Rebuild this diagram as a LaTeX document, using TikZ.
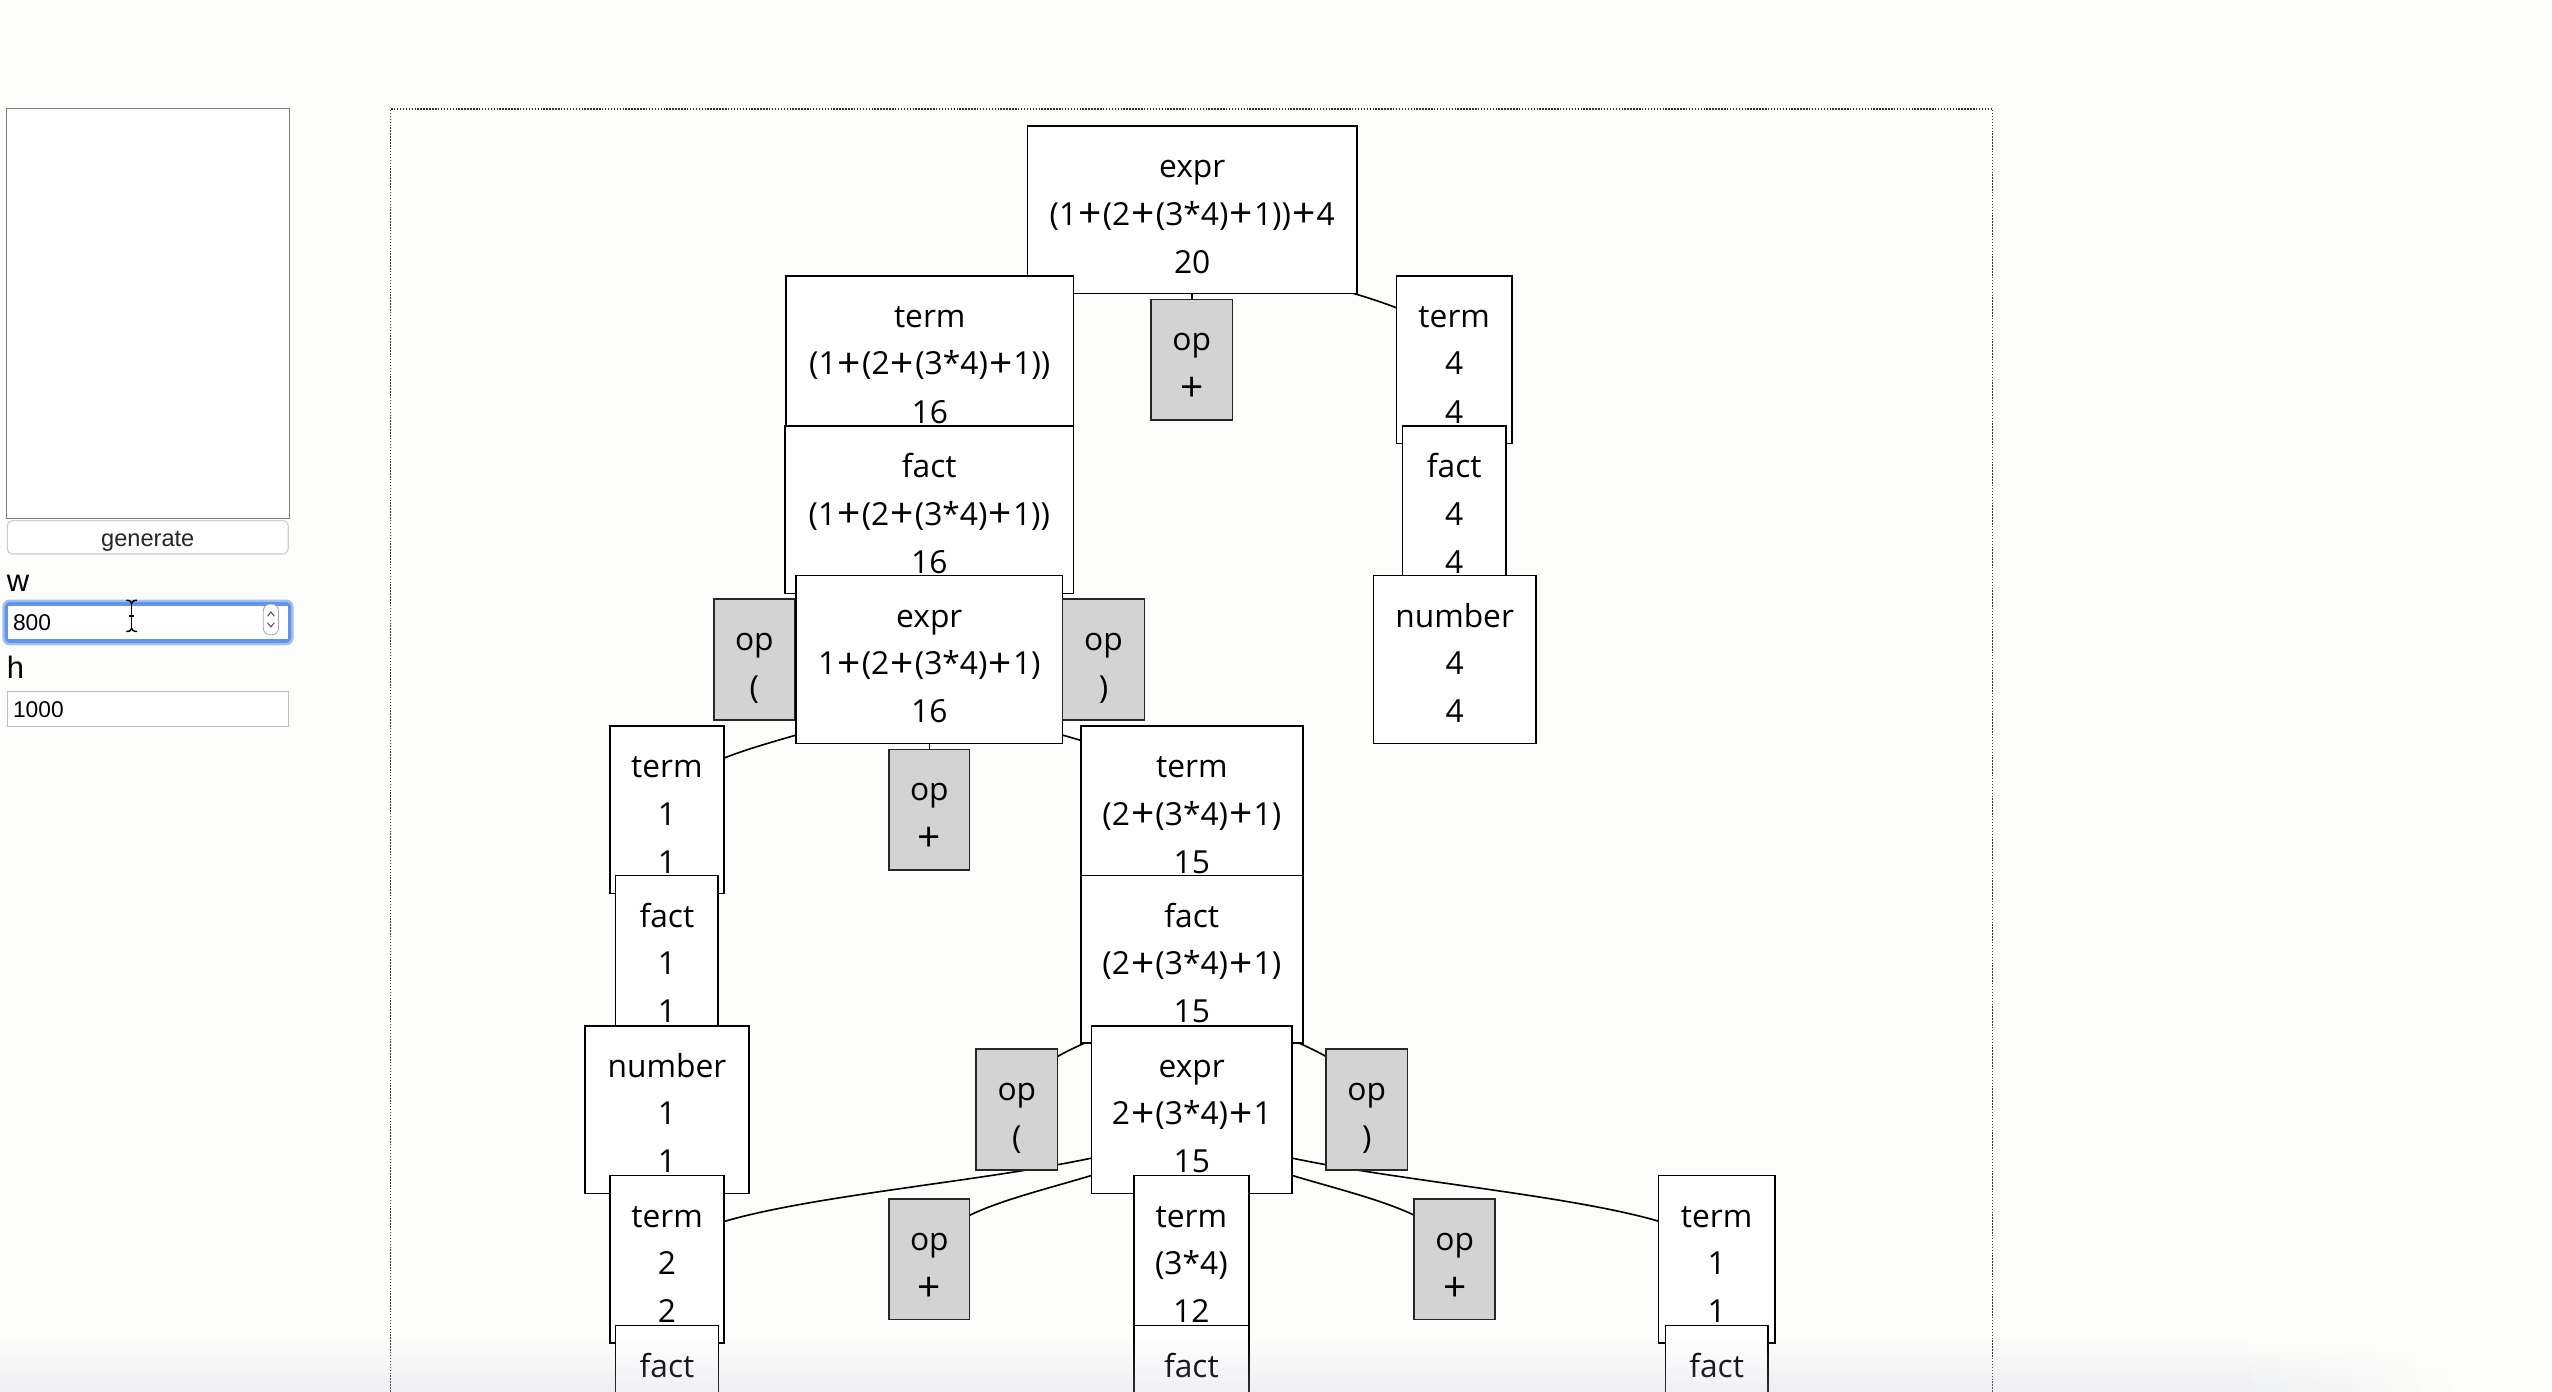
\documentclass[tikz,border=0pt]{standalone}
\usepackage{fontspec}
\setmainfont{Open Sans}
\newfontfamily\uifont{Liberation Sans}
\usetikzlibrary{calc}
\definecolor{pagebg}{RGB}{253,253,251}
\definecolor{opgray}{RGB}{211,211,211}
\definecolor{ringout}{RGB}{160,192,242}
\definecolor{ringin}{RGB}{98,148,232}
\definecolor{areaborder}{RGB}{125,125,125}
\definecolor{fieldborder}{RGB}{190,190,190}
\definecolor{btnborder}{RGB}{205,205,205}
\definecolor{shadowc}{RGB}{196,198,214}
\pgfdeclarelayer{bg}
\pgfdeclarelayer{links}
\pgfdeclarelayer{fg}
\pgfsetlayers{bg,links,main,fg}
\tikzset{
  nbox/.style={draw=black, fill=white, line width=1pt, minimum height=103pt, inner sep=0pt, outer sep=0pt},
  opbox/.style={nbox, fill=opgray, draw=black!85, minimum height=74pt},
  ntext/.style={anchor=base, inner sep=0pt, font=\fontsize{19.5}{23}\selectfont, text=black},
  link/.style={draw=black, line width=1pt},
  uitext/.style={anchor=base west, inner sep=0pt, text=black},
}
% plus sign drawn larger, as in the original font
\newcommand\pl{\kern0.7pt\raisebox{-1.7pt}{\fontsize{25}{23}\selectfont+}\kern0.7pt}
% three-line box: name, centre x, level top, width, lines
\newcommand\TreeBox[7]{%
  \node[nbox, minimum width=#4pt] (#1) at (#2,#3+51.5) {};
  \node[ntext] (#1-a) at ([yshift=-31.7pt]#1.north) {#5};
  \node[ntext] (#1-b) at ([yshift=-61pt]#1.north) {#6};
  \node[ntext] (#1-c) at ([yshift=-90.5pt]#1.north) {#7};}
% box cut off at the bottom: only first line visible
\newcommand\LowBox[5]{%
  \node[nbox, minimum width=#4pt] (#1) at (#2,#3+51.5) {};
  \node[ntext] (#1-a) at ([yshift=-31.7pt]#1.north) {#5};}
% grey operator box
\newcommand\OpBox[6]{%
  \node[opbox, minimum width=#4pt] (#1) at (#2,#3+51.5) {};
  \node[ntext] (#1-a) at ([yshift=-31.3pt]#1.north) {#5};
  \node[ntext] (#1-b) at ([yshift=-61pt]#1.north) {#6};}
\newcommand\TreeLink[2]{%
  \draw[link] let \p1=(#1.center), \p2=(#2.center) in
    (\p1) .. controls (\x1,{(\y1+\y2)/2}) and (\x2,{(\y1+\y2)/2}) .. (\p2);}
\begin{document}
\begin{tikzpicture}[x=1pt,y=-1pt]
\useasboundingbox (0,0) rectangle (1568,855);
\begin{pgfonlayer}{bg}
  \fill[pagebg] (0,0) rectangle (1568,855);
  \draw[black!80, line width=0.8pt, dash pattern=on 0.9pt off 0.9pt]
    (239.9,900) -- (239.9,67.0) -- (1224.3,67.0) -- (1224.3,900);
\end{pgfonlayer}

% ---------- left panel ----------
\draw[areaborder, fill=white, line width=0.8pt] (4.1,66.8) rectangle (177.8,318.4);
\draw[btnborder, fill=white, line width=0.7pt, rounded corners=3.5pt] (4.5,319.9) rectangle (177.1,340.4);
\node[anchor=base, inner sep=0pt, text=black!85, font=\uifont\fontsize{14.5}{16}\selectfont] (gen) at (90.8,335.5) {generate};
\node[uitext, font=\uifont\fontsize{19}{21}\selectfont] (wlab) at (4.1,363.5) {w};
\fill[ringout, rounded corners=4.5pt] (1.4,368.4) rectangle (180.4,396.5);
\fill[ringin, rounded corners=3pt] (2.9,369.9) rectangle (178.9,395.0);
\fill[white] (5.1,372.3) rectangle (177.1,392.8);
\node[uitext, font=\uifont\fontsize{14}{16}\selectfont] (wval) at (7.8,387.5) {800};
\draw[black!35, fill=white, line width=0.5pt, rounded corners=4pt] (161.8,371.2) rectangle (171.1,390.0);
\draw[black!70, line width=0.6pt] (164.4,378.6) -- (166.45,376.0) -- (168.5,378.6);
\draw[black!70, line width=0.6pt] (164.4,382.6) -- (166.45,385.2) -- (168.5,382.6);
% text cursor (I-beam)
\draw[black, line width=1pt] (80.9,370.6) -- (80.9,386.2);
\draw[black, line width=0.9pt] (77.6,368.8) .. controls (79.6,368.8) and (80.9,369.6) .. (80.9,370.8);
\draw[black, line width=0.9pt] (84.2,368.8) .. controls (82.2,368.8) and (80.9,369.6) .. (80.9,370.8);
\draw[black, line width=0.9pt] (77.6,388.0) .. controls (79.6,388.0) and (80.9,387.2) .. (80.9,386.0);
\draw[black, line width=0.9pt] (84.2,388.0) .. controls (82.2,388.0) and (80.9,387.2) .. (80.9,386.0);
\draw[black, line width=0.9pt] (79.5,378.6) -- (82.3,378.6);
\node[uitext, font=\uifont\fontsize{19}{21}\selectfont] (hlab) at (4.1,416.8) {h};
\draw[fieldborder, fill=white, line width=0.7pt] (4.5,425.0) rectangle (177.1,446.5);
\node[uitext, font=\uifont\fontsize{14}{16}\selectfont] (hval) at (7.8,440.7) {1000};

% ---------- tree (parents before children) ----------
% level 0
\TreeBox{e0}{732.5}{77.3}{202.4}{expr}{(1\pl(2\pl(3*4)\pl1))\pl4}{20}
% level 1
\TreeBox{t1}{571.25}{169.4}{176.7}{term}{(1\pl(2\pl(3*4)\pl1))}{16}
\OpBox{o1}{732.25}{169.4}{50.1}{op}{\pl}
\TreeBox{t4}{893.5}{169.4}{70.8}{term}{4}{4}
% level 2
\TreeBox{f2}{571.0}{261.6}{177.3}{fact}{(1\pl(2\pl(3*4)\pl1))}{16}
\TreeBox{f4}{893.5}{261.6}{63.5}{fact}{4}{4}
% level 3
\OpBox{oL3}{463.5}{353.7}{49.4}{op}{(}
\TreeBox{e3}{571.0}{353.7}{163.5}{expr}{1\pl(2\pl(3*4)\pl1)}{16}
\OpBox{oR3}{678.0}{353.7}{50.5}{op}{)}
\TreeBox{n4}{893.75}{353.7}{99.9}{number}{4}{4}
% level 4
\TreeBox{t1b}{409.75}{445.9}{70.3}{term}{1}{1}
\OpBox{o4}{571.0}{445.9}{49.4}{op}{\pl}
\TreeBox{t15}{732.25}{445.9}{136.5}{term}{(2\pl(3*4)\pl1)}{15}
% level 5
\TreeBox{f1}{409.75}{538.0}{63.1}{fact}{1}{1}
\TreeBox{f15}{732.25}{538.0}{136.5}{fact}{(2\pl(3*4)\pl1)}{15}
% level 6
\TreeBox{n1}{409.8}{630.2}{100.8}{number}{1}{1}
\OpBox{oL6}{624.75}{630.2}{49.9}{op}{(}
\TreeBox{e18}{732.25}{630.2}{123.3}{expr}{2\pl(3*4)\pl1}{15}
\OpBox{oR6}{839.75}{630.2}{49.9}{op}{)}
% level 7
\TreeBox{t2}{409.85}{722.3}{70.3}{term}{2}{2}
\OpBox{o7a}{571.0}{722.3}{49.4}{op}{\pl}
\TreeBox{t34}{732.0}{722.3}{70.9}{term}{(3*4)}{12}
\OpBox{o7b}{893.75}{722.3}{49.9}{op}{\pl}
\TreeBox{t1c}{1054.75}{722.3}{71.3}{term}{1}{1}
% level 8 (cut off by the window)
\LowBox{f2b}{409.8}{814.5}{63.2}{fact}
\LowBox{f34}{732.0}{814.5}{70.9}{fact}
\LowBox{f1c}{1054.75}{814.5}{63.1}{fact}

% ---------- links ----------
\begin{pgfonlayer}{links}
\TreeLink{e0}{t1}\TreeLink{e0}{o1}\TreeLink{e0}{t4}
\TreeLink{t1}{f2}
\TreeLink{f2}{oL3}\TreeLink{f2}{e3}\TreeLink{f2}{oR3}
\TreeLink{t4}{f4}\TreeLink{f4}{n4}
\TreeLink{e3}{t1b}\TreeLink{e3}{o4}\TreeLink{e3}{t15}
\TreeLink{t1b}{f1}\TreeLink{f1}{n1}
\TreeLink{t15}{f15}
\TreeLink{f15}{oL6}\TreeLink{f15}{e18}\TreeLink{f15}{oR6}
\TreeLink{e18}{t2}\TreeLink{e18}{o7a}\TreeLink{e18}{t34}\TreeLink{e18}{o7b}\TreeLink{e18}{t1c}
\TreeLink{t2}{f2b}\TreeLink{t34}{f34}\TreeLink{t1c}{f1c}
\end{pgfonlayer}

% ---------- faint shadow at the bottom edge, fading out to the right ----------
\begin{pgfonlayer}{fg}
\foreach \i in {0,...,10} {
  \fill[shadowc, opacity=0.012+0.022*\i] (0,822+3*\i) rectangle (1380+0.6*\i,825+3*\i);
  \foreach \j in {1,...,6} {
    \fill[shadowc, opacity={(0.012+0.022*\i)*(1-\j/7)}]
      (1380+20*\j-20+0.6*\i,822+3*\i) rectangle (1380+20*\j+0.6*\i,825+3*\i);
  }
}
\end{pgfonlayer}
\end{tikzpicture}
\end{document}
